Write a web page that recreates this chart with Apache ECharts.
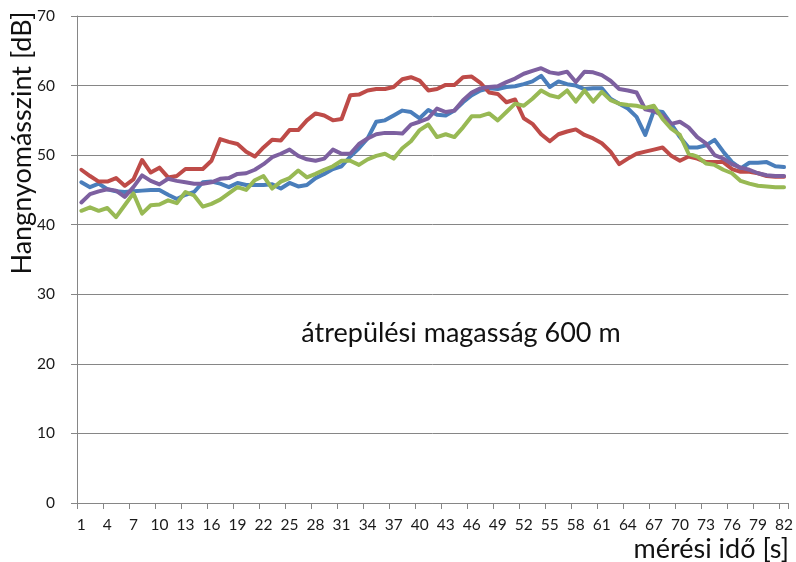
<!DOCTYPE html>
<html>
<head>
<meta charset="utf-8">
<script src="https://cdn.jsdelivr.net/npm/echarts@6/dist/echarts.min.js"></script>
<style>
html,body{margin:0;padding:0;background:#fff;}
#chart{width:796px;height:562px;}
</style>
</head>
<body>
<div id="chart"></div>
<script>
const categories = ['1','2','3','4','5','6','7','8','9','10','11','12','13','14','15','16','17','18','19','20',
'21','22','23','24','25','26','27','28','29','30','31','32','33','34','35','36','37','38','39','40',
'41','42','43','44','45','46','47','48','49','50','51','52','53','54','55','56','57','58','59','60',
'61','62','63','64','65','66','67','68','69','70','71','72','73','74','75','76','77','78','79','80','81','82'];

const blueSeries = [46.1,45.4,45.9,45.1,44.8,44.7,44.8,44.9,45.0,45.0,44.3,43.7,44.3,44.7,46.1,46.2,45.9,
45.4,46.0,45.7,45.7,45.7,45.8,45.2,46.0,45.5,45.7,46.7,47.3,48.0,48.4,49.8,51.0,
52.4,54.8,55.0,55.7,56.4,56.2,55.3,56.5,55.8,55.7,56.4,57.6,58.6,59.3,59.6,59.5,59.8,
59.9,60.2,60.6,61.4,59.8,60.6,60.2,60.0,59.5,59.6,59.6,58.1,57.4,56.7,55.5,52.9,
56.4,56.2,54.5,52.6,51.1,51.1,51.4,52.2,50.5,49.0,48.1,48.9,48.9,49.0,48.4,48.3];

const redSeries = [47.9,47.0,46.2,46.2,46.7,45.6,46.5,49.3,47.5,48.2,46.8,47.0,48.0,48.0,48.0,49.2,52.3,
51.9,51.6,50.5,49.8,51.1,52.2,52.1,53.6,53.6,55.0,56.0,55.7,55.0,55.2,58.6,58.7,
59.3,59.5,59.5,59.8,60.9,61.2,60.7,59.3,59.5,60.1,60.1,61.2,61.3,60.4,59.0,58.8,57.6,
58.0,55.3,54.5,53.0,52.0,53.0,53.4,53.7,52.9,52.4,51.7,50.5,48.7,49.5,50.2,50.5,
50.8,51.1,49.9,49.2,49.8,49.5,49.0,49.0,49.0,48.0,47.6,47.6,47.4,47.0,46.9,46.9];

const purpleSeries = [43.2,44.4,44.8,45.1,44.9,44.0,45.4,47.1,46.3,45.8,46.6,46.3,46.1,45.9,45.9,46.1,46.6,
46.7,47.3,47.4,47.9,48.7,49.7,50.2,50.8,49.9,49.4,49.2,49.5,50.8,50.2,50.2,51.6,
52.4,53.0,53.2,53.2,53.1,54.4,54.8,55.3,56.7,56.2,56.4,57.9,59.0,59.6,59.8,59.9,60.5,
61.0,61.7,62.1,62.5,61.9,61.7,62.0,60.5,62.0,61.9,61.5,60.7,59.5,59.3,59.0,56.6,
56.3,55.7,54.5,54.8,54.0,52.6,51.7,50.0,49.5,48.7,48.2,47.9,47.4,47.1,47.0,47.0];

const greenSeries = [42.0,42.5,42.0,42.4,41.1,42.8,44.5,41.6,42.8,42.9,43.5,43.1,44.7,44.2,42.6,43.0,43.6,
44.5,45.4,45.0,46.4,47.0,45.2,46.2,46.7,47.8,46.8,47.3,47.9,48.4,49.2,49.2,48.6,
49.4,49.9,50.2,49.5,51.0,52.0,53.6,54.4,52.6,53.0,52.6,54.0,55.6,55.6,56.0,55.0,56.2,
57.4,57.1,58.1,59.3,58.6,58.3,59.3,57.7,59.3,57.7,59.1,57.9,57.4,57.2,57.1,56.8,
57.1,55.2,53.8,52.9,50.2,49.8,48.8,48.6,47.9,47.4,46.3,45.9,45.6,45.5,45.4,45.4];

const yTicks = [0,10,20,30,40,50,60,70];
const yAxisTitle = 'Hangnyomásszint [dB]';
const xAxisTitle = 'mérési idő [s]';
const annotation = 'átrepülési magasság 600 m';

const FONT = 'Lato, "Open Sans", sans-serif';
const chart = echarts.init(document.getElementById('chart'), null, {renderer:'canvas'});

function line(name, data, color){
  return {name, type:'line', data, symbol:'none', smooth:false,
    lineStyle:{color, width:4, join:'round', cap:'round'}, itemStyle:{color}, animation:false, z:2};
}

chart.setOption({
  animation:false,
  backgroundColor:'#ffffff',
  grid:{left:77, right:6, top:16, bottom:59, containLabel:false},
  xAxis:{
    type:'category', data:categories, boundaryGap:true,
    axisLine:{show:true, lineStyle:{color:'#868686', width:1}},
    axisTick:{show:true, interval:2, length:6, lineStyle:{color:'#868686'}},
    axisLabel:{interval:2, color:'#1a1a1a', fontSize:15.5, fontFamily:FONT, margin:14},
    splitLine:{show:false}
  },
  yAxis:{
    type:'value', min:yTicks[0], max:yTicks[yTicks.length-1], interval:10,
    axisLine:{show:true, lineStyle:{color:'#868686', width:1}},
    axisTick:{show:true, length:6, lineStyle:{color:'#868686'}},
    axisLabel:{color:'#1a1a1a', fontSize:15.5, fontFamily:FONT, margin:22},
    splitLine:{show:true, lineStyle:{color:'#868686', width:1}}
  },
  series:[
    line('blue', blueSeries, '#4A7EBB'),
    line('red', redSeries, '#BE4B48'),
    line('purple', purpleSeries, '#7D60A0'),
    line('green', greenSeries, '#98B954')
  ],
  graphic:[
    {type:'text', x:22, y:143, rotation:Math.PI/2,
      style:{text:yAxisTitle, font:'27px ' + FONT, fill:'#111', align:'center', verticalAlign:'middle'}},
    {type:'text', x:789, y:549,
      style:{text:xAxisTitle, font:'27px ' + FONT, fill:'#111', align:'right', verticalAlign:'middle'}},
    {type:'text', x:461, y:333,
      style:{text:annotation, font:'27px ' + FONT, fill:'#111', align:'center', verticalAlign:'middle'}}
  ]
});
</script>
</body>
</html>
